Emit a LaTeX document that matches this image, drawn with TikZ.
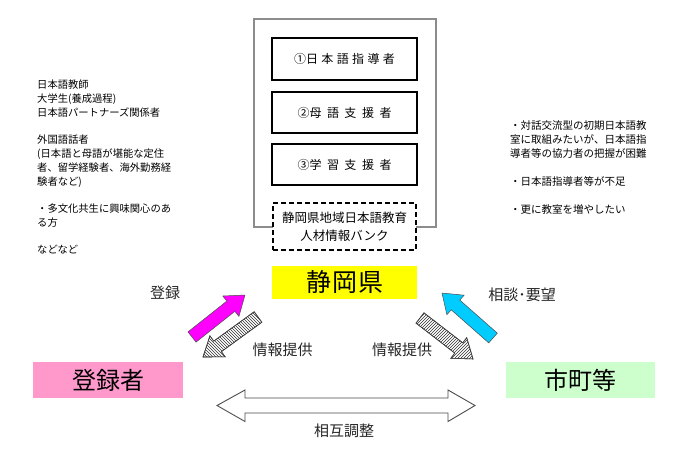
\documentclass[tikz,border=0pt]{standalone}
\usepackage{fontspec}
\setmainfont{Noto Sans CJK JP}
\usetikzlibrary{patterns}
\definecolor{cYellow}{HTML}{FFFF00}
\definecolor{cPink}{HTML}{FF99CC}
\definecolor{cGreen}{HTML}{CCFFCC}
\definecolor{cMagenta}{HTML}{FF00FF}
\definecolor{cCyan}{HTML}{00CCFF}
\newcommand\blockarr[4]{%
  \path[#1, shift={#2}, rotate=#3]
    (0,-6.5) -- ({#4-18},-6.5) -- ({#4-18},-13) -- (#4,0) -- ({#4-18},13) -- ({#4-18},6.5) -- (0,6.5) -- cycle;}
\begin{document}
\begin{tikzpicture}[x=1pt,y=-1pt,
  outerframe/.style={draw=black, double=black!45, double distance=1.1pt, line width=0.6pt, minimum width=182pt, minimum height=208pt, inner sep=0pt},
  innerbox/.style={draw=black, fill=white, line width=1.5pt, minimum width=145pt, minimum height=41pt, inner sep=0pt, font=\fontsize{12}{14}\selectfont},
  bankbox/.style={draw=black, fill=white, line width=1.4pt, dash pattern=on 5pt off 3pt, minimum width=143pt, minimum height=47pt, inner sep=0pt, align=center, font=\fontsize{12.5}{18}\selectfont},
  bigbox/.style={minimum height=36pt, inner sep=0pt, font=\fontsize{24}{28}\selectfont},
  lbl/.style={inner sep=0pt, text=black!85, font=\fontsize{15}{17}\selectfont},
  sidetext/.style={anchor=north west, inner sep=0pt, align=left},
  solidarr/.style={draw=black!70, line width=0.5pt},
  hatcharr/.style={draw=black!75, line width=0.6pt},
  dblarrow/.style={draw=black!70, fill=white, line width=0.9pt, line join=miter}
]
\useasboundingbox (0,0) rectangle (690,471);
\fill[white] (0,0) rectangle (690,471);

% bank frame
\node[outerframe] (frame) at (345,123) {};
\node[innerbox, minimum height=42pt] (b1) at (344.5,59) {①\addfontfeature{LetterSpace=28}日本語指導者};
\node[innerbox] (b2) at (344.5,112.5) {②母\hspace{5.5pt}語\hspace{5.5pt}支\hspace{5.5pt}援\hspace{5.5pt}者};
\node[innerbox] (b3) at (344.5,164.5) {③学\hspace{5.5pt}習\hspace{5.5pt}支\hspace{5.5pt}援\hspace{5.5pt}者};
\node[bankbox] (bank) at (344.5,226.5) {静岡県地域日本語教育\\人材情報バンク};

% main boxes
\node[fill=cYellow, minimum width=145pt, minimum height=33pt, inner sep=0pt, font=\fontsize{25}{28}\selectfont] (pref) at (344.5,282.5) {\addfontfeature{LetterSpace=4}静岡県};
\node[bigbox, fill=cPink, minimum width=150pt] (reg) at (108,380) {登録者};
\node[bigbox, fill=cGreen, minimum width=149pt] (city) at (580.5,380) {市町等};

% side texts
\node[sidetext, font=\fontsize{10.3}{13.75}\selectfont] (lefttext) at (37,80) {日本語教師\\
大学生(養成過程)\\
日本語パートナーズ関係者\\[13.75pt]
外国語話者\\
(日本語と母語が堪能な定住\\
者、留学経験者、海外勤務経\\
験者など)\\[13.75pt]
・多文化共生に興味関心のあ\\
る方\\[13.75pt]
などなど};
\node[sidetext, font=\fontsize{10.5}{14}\selectfont] (righttext) at (510,120) {・対話交流型の初期日本語教\\
室に取組みたいが、日本語指\\
導者等の協力者の把握が困難\\[14pt]
・日本語指導者等が不足\\[14pt]
・更に教室を増やしたい};

% block arrows
\blockarr{solidarr, fill=cMagenta}{(192,337)}{38.4}{67.6}
\blockarr{solidarr, fill=cCyan}{(493,338)}{138.6}{68}
\blockarr{hatcharr, pattern=north west lines, pattern color=black!80}{(258,317)}{216}{68}
\blockarr{hatcharr, pattern=north east lines, pattern color=black!80}{(420,318)}{-37.7}{67}
\blockarr{hatcharr}{(258,317)}{216}{68}
\blockarr{hatcharr}{(420,318)}{-37.7}{67}

% double arrow
\draw[dblarrow] (217,405.5) -- (245,390) -- (245,398) -- (448,398) -- (448,390) -- (475,405.5)
  -- (448,421.5) -- (448,413) -- (245,413) -- (245,421.5) -- cycle;

% labels
\node[lbl] (lreg) at (165,292.5) {登録};
\node[lbl] (lcons) at (522,295) {相談･要望};
\node[lbl] (linfo1) at (282.5,349.5) {情報提供};
\node[lbl] (linfo2) at (402,349.5) {情報提供};
\node[lbl] (lmut) at (344,430.5) {相互調整};
\end{tikzpicture}
\end{document}
